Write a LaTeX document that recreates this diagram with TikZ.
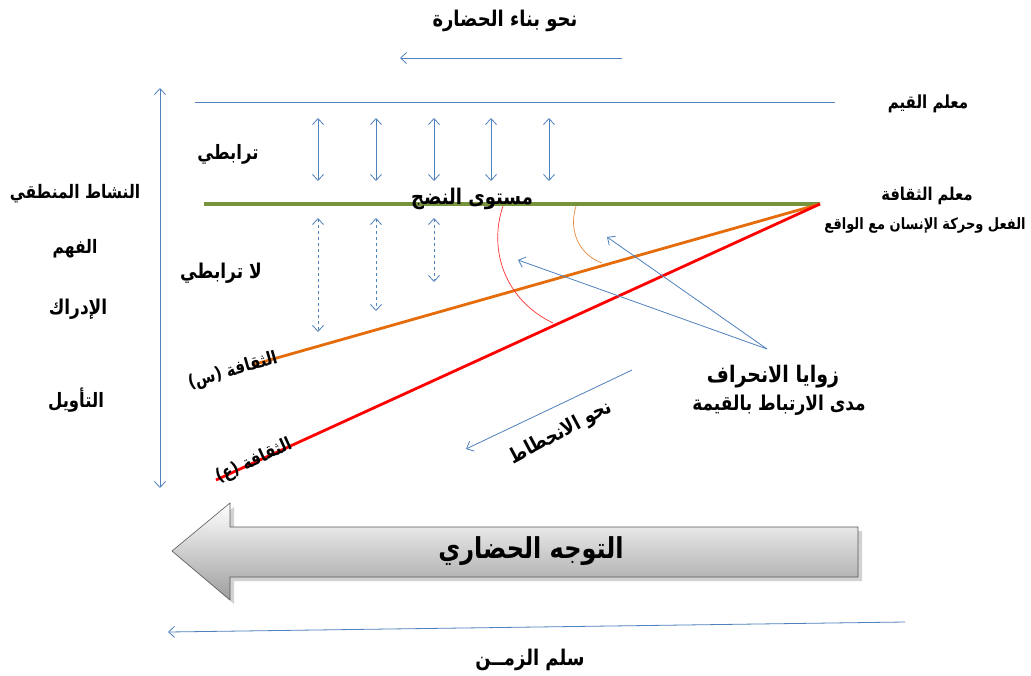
\documentclass[tikz,border=0pt]{standalone}
\usepackage{fontspec}
\usetikzlibrary{arrows.meta}
\TeXXeTstate=1
\newfontfamily\arfont[Script=Arabic]{DejaVu Sans}
\newcommand\artx[1]{\scalebox{1}[1.2]{\beginR #1\endR}}
\definecolor{lblue}{HTML}{4F81BD}
\definecolor{olive}{HTML}{77933C}
\definecolor{orng}{HTML}{E46C0A}
\begin{document}
\begin{tikzpicture}[x=1pt,y=-1pt,
  bl/.style={draw=lblue, line width=0.8pt},
  tipe/.style={-{Straight Barb[length=6pt,width=11pt]}},
  dtip/.style={{Straight Barb[length=6pt,width=11pt]}-{Straight Barb[length=6pt,width=11pt]}},
  lbl/.style={font=\arfont\bfseries\fontsize{#1}{#1}\selectfont, inner sep=1pt},
  lbl/.default=17]
\useasboundingbox (0,0) rectangle (1031,675);
\fill[white] (0,0) rectangle (1031,675);

% title
\node[lbl=18] (title) at (505,21) {\artx{نحو بناء الحضارة}};
\coordinate (t1) at (622,58); \coordinate (t2) at (400,58);
\draw[bl,tipe] (t1) -- (t2);

% vertical axis
\coordinate (v1) at (160,88); \coordinate (v2) at (160,488);
\draw[bl,dtip] (v1) -- (v2);

% values line
\coordinate (q1) at (195,102); \coordinate (q2) at (835,102);
\draw[bl] (q1) -- (q2);
\node[lbl=15] (qiyam) at (928,104) {\artx{معلم القيم}};

% solid double arrows
\foreach \x [count=\i] in {318,376,434,491,549}{
  \coordinate (sa\i) at (\x,118); \coordinate (sb\i) at (\x,181);
  \draw[bl,dtip] (sa\i) -- (sb\i);
}
% dashed double arrows
\coordinate (da1) at (318,218); \coordinate (db1) at (318,332);
\coordinate (da2) at (376,218); \coordinate (db2) at (376,311);
\coordinate (da3) at (434,218); \coordinate (db3) at (434,282);
\foreach \i in {1,2,3}{\draw[bl,dtip,dashed] (da\i) -- (db\i);}

% culture lines
\coordinate (O) at (820,204);
\coordinate (g1) at (204,204);
\coordinate (os) at (252,365);
\coordinate (rs) at (216,480);
\draw[olive,line width=3.8pt] (g1) -- (O);
\draw[orng,line width=2.8pt] (O) -- (os);
\draw[red,line width=2.8pt] (O) -- (rs);

% arcs
\coordinate (ra1) at (503,206); \coordinate (ra2) at (553,323);
\draw[red!80,line width=0.7pt] (ra1) .. controls (488,250) and (505,300) .. (ra2);
\coordinate (oa1) at (576,206); \coordinate (oa2) at (602,263);
\draw[orng!80,line width=0.7pt] (oa1) .. controls (568,232) and (580,255) .. (oa2);

\node[lbl=18] (nodj) at (472,199) {\artx{مستوى النضج}};
\node[lbl=16.5] (trb) at (228,154) {\artx{ترابطي}};
\node[lbl=17] (ltrb) at (221,273) {\artx{لا ترابطي}};

% rotated labels
\node[lbl=15,rotate=16] (cs) at (233,371) {\artx{الثقافة (س)}};
\node[lbl=15,rotate=24.5] (ce) at (254,461) {\artx{الثقافة (ع)}};

% right labels
\node[lbl=14.7] (thq) at (927,196) {\artx{معلم الثقافة}};
\node[lbl=13] (fil) at (925,225) {\artx{الفعل وحركة الإنسان مع الواقع}};

% deviation angles
\coordinate (z0) at (767,349);
\coordinate (z1) at (518,260);
\coordinate (z2) at (607,237);
\draw[bl,tipe] (z0) -- (z1);
\draw[bl,tipe] (z0) -- (z2);
\node[lbl=19] (zw) at (773,377) {\artx{زوايا الانحراف}};
\node[lbl=17] (md) at (779,405) {\artx{مدى الارتباط بالقيمة}};

% decline
\coordinate (n1) at (632,370); \coordinate (n2) at (466,449);
\draw[bl,tipe] (n1) -- (n2);
\node[lbl=17,rotate=28] (nh) at (561,433) {\artx{نحو الانحطاط}};

% left labels
\node[lbl=15.5] (nsh) at (75,194) {\artx{النشاط المنطقي}};
\node[lbl=15.5] (fhm) at (75,249) {\artx{الفهم}};
\node[lbl=17] (idr) at (78,309) {\artx{الإدراك}};
\node[lbl=16.5] (taw) at (76,400) {\artx{التأويل}};

% big arrow
\fill[black!35,opacity=0.5] (862,531) -- (234,531) -- (234,507) -- (176,555) -- (234,604) -- (234,581) -- (862,581) -- cycle;
\shade[top color=white, bottom color=black!38, draw=black!65, line width=0.6pt]
  (858,527) -- (230,527) -- (230,503) -- (172,551) -- (230,600) -- (230,577) -- (858,577) -- cycle;
\node[lbl=24] (tawj) at (531,551) {\artx{التوجه الحضاري}};

% time line
\coordinate (b1) at (905,622); \coordinate (b2) at (168,632);
\draw[bl,tipe] (b1) -- (b2);
\node[lbl=18] (zmn) at (530,660) {\artx{سلم الزمــن}};
\end{tikzpicture}
\end{document}
